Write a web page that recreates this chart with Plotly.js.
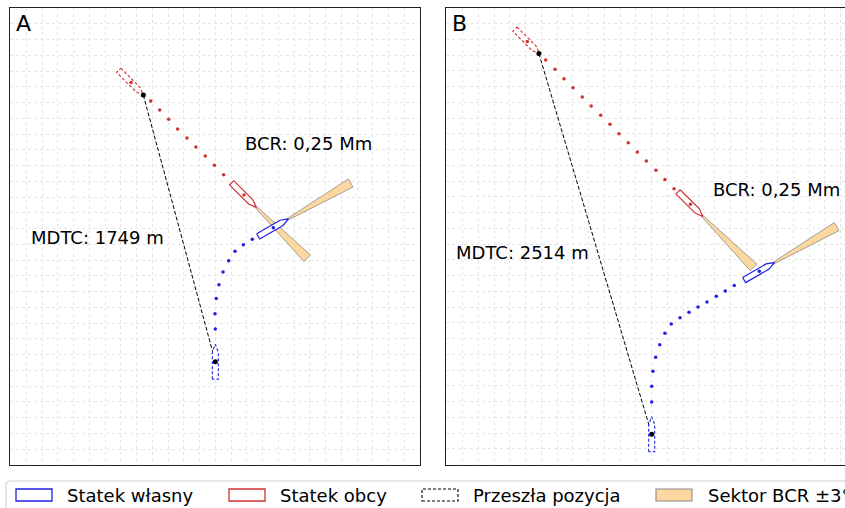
<!DOCTYPE html>
<html><head><meta charset="utf-8">
<script src="https://cdn.plot.ly/plotly-3.0.1.min.js"></script>
<style>html,body{margin:0;padding:0;overflow:hidden;background:#fff}#chart{width:866px;height:520px}</style>
</head><body><div id="chart"></div>
<script>
// ---- Texts ----
const panelLabels = ['A', 'B'];
const mdtcTexts = ['MDTC: 1749 m', 'MDTC: 2514 m'];
const bcrTexts = ['BCR: 0,25 Mm', 'BCR: 0,25 Mm'];
const legendLabels = ['Statek własny', 'Statek obcy', 'Przeszła pozycja', 'Sektor BCR ±3°'];

// ---- Panel A (metres, own ship start = origin) ----
const ownTrailA_x = [0, -2, 6, 23, 49, 85, 125, 178, 235];
const ownTrailA_y = [208, 305, 402, 489, 570, 641, 701, 743, 777];
const targetTrailA_x = [-410, -353, -296, -239, -180, -123, -64, -6, 53];
const targetTrailA_y = [1655, 1598, 1539, 1478, 1420, 1363, 1306, 1247, 1187];
const ownNowA = [368, 851];
const ownHeadingA = 60;
const targetNowA = [182, 1058];
const targetHeadingA = 135;
const ownPastA = [0, 0];
const ownPastHeadingA = 0;
const targetPastA = [-535, 1772];
const targetPastHeadingA = 135;
const mdtcLineA_x = [-457, 0];
const mdtcLineA_y = [1693, 0];

// ---- Panel B ----
const ownTrailB_x = [0, 0, 8, 25, 51, 84, 124, 180, 237, 294, 351, 410, 467, 524];
const ownTrailB_y = [205, 305, 400, 489, 569, 641, 700, 740, 775, 808, 840, 876, 910, 944];
const targetTrailB_x = [-673, -614, -557, -500, -441, -384, -324, -265, -208, -149, -91, -34, 27, 84, 142];
const targetTrailB_y = [2377, 2318, 2258, 2201, 2142, 2084, 2025, 1968, 1909, 1851, 1792, 1735, 1676, 1617, 1559];
const ownNowB = [683, 1035];
const ownHeadingB = 60;
const targetNowB = [246, 1461];
const targetHeadingB = 135;
const ownPastB = [0, 0];
const ownPastHeadingB = 0;
const targetPastB = [-790, 2494];
const targetPastHeadingB = 135;
const mdtcLineB_x = [-716, 0];
const mdtcLineB_y = [2417, 0];

// ---- geometry constants ----
const SHIP_L = 222, SHIP_B = 38, SHIP_BOW = 50;
const SECTOR_R = 568, SECTOR_HALF = 3;

const W = 866, H = 520;
const RED = '#cf3131', BLUE = '#1f1fe6', SECTOR_FILL = '#fcd7a0', SECTOR_LINE = '#8c8c8c';
const FONT = 'DejaVu Sans';

function shipPoly(c, h) {
  const r = h * Math.PI / 180;
  const fx = Math.sin(r), fy = Math.cos(r), sx = Math.cos(r), sy = -Math.sin(r);
  const L = SHIP_L, B = SHIP_B, bw = SHIP_BOW;
  const pts = [[-L/2, -B/2], [L/2 - bw, -B/2], [L/2, 0], [L/2 - bw, B/2], [-L/2, B/2], [-L/2, -B/2]];
  return { x: pts.map(p => c[0] + p[0]*fx + p[1]*sx), y: pts.map(p => c[1] + p[0]*fy + p[1]*sy) };
}
function sectorPoly(c, h) {
  const xs = [c[0]], ys = [c[1]];
  for (let i = 0; i <= 8; i++) {
    const a = (h - SECTOR_HALF + i * 2 * SECTOR_HALF / 8) * Math.PI / 180;
    xs.push(c[0] + SECTOR_R * Math.sin(a)); ys.push(c[1] + SECTOR_R * Math.cos(a));
  }
  xs.push(c[0]); ys.push(c[1]);
  return { x: xs, y: ys };
}

function panelTraces(d, xa, ya) {
  const t = [];
  const base = { xaxis: xa, yaxis: ya, showlegend: false, hoverinfo: 'skip' };
  t.push(Object.assign({}, base, { type: 'scatter', mode: 'lines', x: d.lineX, y: d.lineY,
    line: { color: '#000', width: 1, dash: '4px,2px' } }));
  [[d.targetNow, d.targetHeading], [d.ownNow, d.ownHeading]].forEach(([c, h]) => {
    const p = sectorPoly(c, h);
    t.push(Object.assign({}, base, { type: 'scatter', mode: 'lines', x: p.x, y: p.y, fill: 'toself',
      fillcolor: SECTOR_FILL, line: { color: SECTOR_LINE, width: 0.8 } }));
  });
  t.push(Object.assign({}, base, { type: 'scatter', mode: 'markers', x: d.targetTrailX, y: d.targetTrailY,
    marker: { color: RED, size: 3.5 } }));
  t.push(Object.assign({}, base, { type: 'scatter', mode: 'markers', x: d.ownTrailX, y: d.ownTrailY,
    marker: { color: BLUE, size: 3.5 } }));
  // past ships
  [[d.targetPast, d.targetPastHeading, RED], [d.ownPast, d.ownPastHeading, BLUE]].forEach(([c, h, col]) => {
    const p = shipPoly(c, h);
    t.push(Object.assign({}, base, { type: 'scatter', mode: 'lines', x: p.x, y: p.y, fill: 'toself',
      fillcolor: '#fff', line: { color: col, width: 1.1, dash: '3px,2px' } }));
  });
  // current ships
  [[d.targetNow, d.targetHeading, RED], [d.ownNow, d.ownHeading, BLUE]].forEach(([c, h, col]) => {
    const p = shipPoly(c, h);
    t.push(Object.assign({}, base, { type: 'scatter', mode: 'lines', x: p.x, y: p.y, fill: 'toself',
      fillcolor: '#fff', line: { color: col, width: 1.2 } }));
  });
  t.push(Object.assign({}, base, { type: 'scatter', mode: 'markers',
    x: [d.targetNow[0], d.targetPast[0]], y: [d.targetNow[1], d.targetPast[1]], marker: { color: RED, size: 3.5 } }));
  t.push(Object.assign({}, base, { type: 'scatter', mode: 'markers',
    x: [d.ownNow[0]], y: [d.ownNow[1]], marker: { color: BLUE, size: 3.5 } }));
  t.push(Object.assign({}, base, { type: 'scatter', mode: 'markers', x: d.lineX, y: d.lineY,
    marker: { color: '#000', size: 5 } }));
  return t;
}

const dataA = { ownTrailX: ownTrailA_x, ownTrailY: ownTrailA_y, targetTrailX: targetTrailA_x, targetTrailY: targetTrailA_y,
  ownNow: ownNowA, ownHeading: ownHeadingA, targetNow: targetNowA, targetHeading: targetHeadingA,
  ownPast: ownPastA, ownPastHeading: ownPastHeadingA, targetPast: targetPastA, targetPastHeading: targetPastHeadingA,
  lineX: mdtcLineA_x, lineY: mdtcLineA_y };
const dataB = { ownTrailX: ownTrailB_x, ownTrailY: ownTrailB_y, targetTrailX: targetTrailB_x, targetTrailY: targetTrailB_y,
  ownNow: ownNowB, ownHeading: ownHeadingB, targetNow: targetNowB, targetHeading: targetHeadingB,
  ownPast: ownPastB, ownPastHeading: ownPastHeadingB, targetPast: targetPastB, targetPastHeading: targetPastHeadingB,
  lineX: mdtcLineB_x, lineY: mdtcLineB_y };

const traces = panelTraces(dataA, 'x', 'y').concat(panelTraces(dataB, 'x2', 'y2'));

const px = v => v / W, py = v => 1 - v / H;
const axisCommon = { showticklabels: false, ticks: '', zeroline: false, showgrid: true,
  gridcolor: '#e0e0e0', griddash: 'dot', gridwidth: 0.8, dtick: 100, showline: true, mirror: true,
  linecolor: '#222', linewidth: 1, fixedrange: true };

const layout = {
  width: W, height: H, margin: { l: 0, r: 0, t: 0, b: 0 }, paper_bgcolor: '#fff', plot_bgcolor: '#fff',
  font: { family: FONT, size: 18, color: '#000' }, showlegend: false,
  xaxis: Object.assign({}, axisCommon, { domain: [px(10), px(420)], range: [-1303.5, 1299.6], tick0: 0, anchor: 'y' }),
  yaxis: Object.assign({}, axisCommon, { domain: [py(465), py(8)], range: [-655.9, 2245.7], tick0: 45, anchor: 'x' }),
  xaxis2: Object.assign({}, axisCommon, { domain: [px(446), px(856)], range: [-1306.0, 1297.1], tick0: 0, anchor: 'y2' }),
  yaxis2: Object.assign({}, axisCommon, { domain: [py(465), py(8)], range: [-194.9, 2706.6], tick0: 8, anchor: 'x2' }),
  annotations: [], shapes: []
};

// panel letters
[['x', 'y'], ['x2', 'y2']].forEach(([xa, ya], i) => {
  layout.annotations.push({ xref: xa + ' domain', yref: ya + ' domain', x: 0, y: 1, xanchor: 'left', yanchor: 'top',
    xshift: 4, yshift: -1, text: panelLabels[i], showarrow: false, font: { size: 22 } });
});
// text labels in data coordinates
const mdtcPos = [[-1170, 785, 'x', 'y'], [-1242, 1145, 'x2', 'y2']];
const bcrPos = [[189, 1376, 'x', 'y'], [389, 1545, 'x2', 'y2']];
mdtcPos.forEach((p, i) => layout.annotations.push({ xref: p[2], yref: p[3], x: p[0], y: p[1], xanchor: 'left',
  yanchor: 'middle', xshift: -2, yshift: 1, text: mdtcTexts[i], showarrow: false, font: { size: 18 } }));
bcrPos.forEach((p, i) => layout.annotations.push({ xref: p[2], yref: p[3], x: p[0], y: p[1], xanchor: 'left',
  yanchor: 'middle', xshift: -2, yshift: 1, text: bcrTexts[i], showarrow: false, font: { size: 18 } }));

// legend (manual, matplotlib-like)
const P = (x, y) => px(x) + ',' + py(y);
layout.shapes.push({ type: 'path', xref: 'paper', yref: 'paper', layer: 'above',
  path: 'M' + P(6, 560) + ' L' + P(6, 485) + ' Q' + P(6, 481) + ' ' + P(10, 481) + ' L' + P(900, 481),
  line: { color: '#cfcfcf', width: 1 }, fillcolor: 'rgba(0,0,0,0)' });
const swX = [16, 229, 422, 656], txX = [65, 278, 471, 706];
const swStyle = [
  { line: { color: BLUE, width: 1.3 }, fillcolor: '#fff' },
  { line: { color: RED, width: 1.3 }, fillcolor: '#fff' },
  { line: { color: '#000', width: 1.1, dash: '3px,2px' }, fillcolor: '#fff' },
  { line: { color: SECTOR_LINE, width: 1.1 }, fillcolor: SECTOR_FILL }
];
legendLabels.forEach((lab, i) => {
  layout.shapes.push(Object.assign({ type: 'rect', xref: 'paper', yref: 'paper',
    x0: px(swX[i]), x1: px(swX[i] + 36), y0: py(501), y1: py(489) }, swStyle[i]));
  layout.annotations.push({ xref: 'paper', yref: 'paper', x: px(txX[i]), y: py(495), xanchor: 'left', yanchor: 'middle',
    text: lab, showarrow: false, font: { size: 18 } });
});

Plotly.newPlot('chart', traces, layout, { displayModeBar: false, staticPlot: true });
</script></body></html>
